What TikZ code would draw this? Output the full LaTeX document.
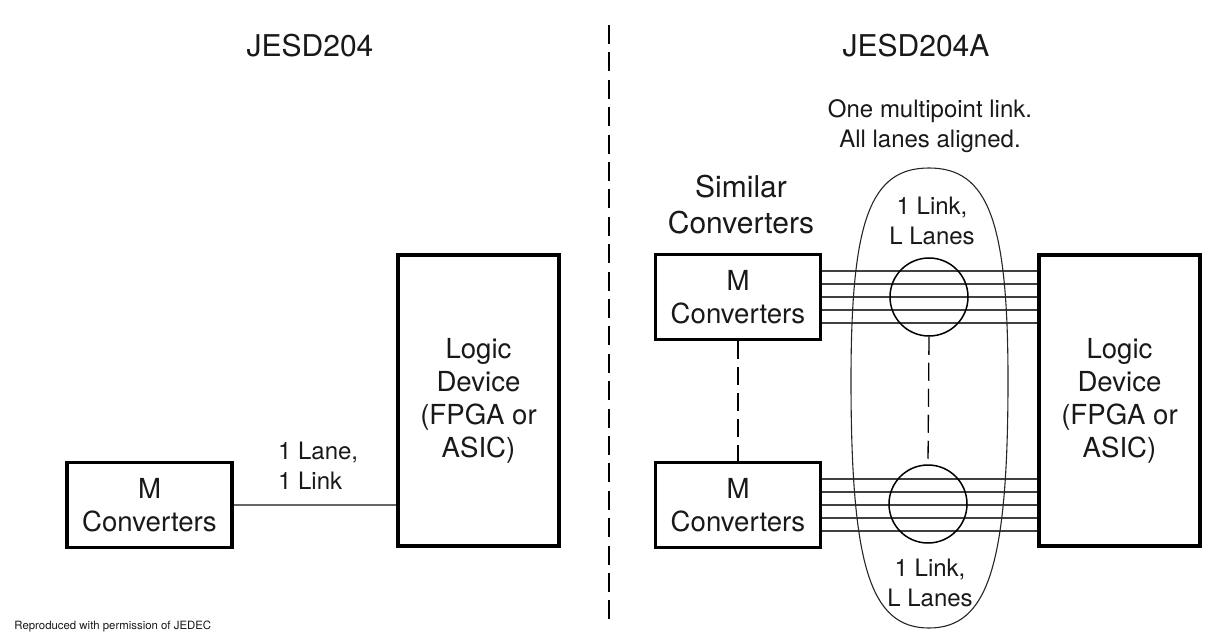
\documentclass[tikz,border=0pt]{standalone}
\usepackage{fontspec}
\setmainfont{TeX Gyre Heros}
\usetikzlibrary{positioning}

\begin{document}
\begin{tikzpicture}[%
    x=0.5pt,y=-0.5pt,%
    every node/.style={text=black!90},%
    convbox/.style={draw,line width=1.8pt,minimum width=82.5pt,minimum height=42.5pt,%
        inner sep=0pt,align=center,font=\fontsize{13.8}{16.5}\selectfont},%
    logicbox/.style={convbox,minimum width=80.5pt,minimum height=145.5pt},%
    title/.style={font=\fontsize{15}{18}\selectfont,align=center},%
    note/.style={font=\fontsize{12}{15}\selectfont,align=center},%
    lane/.style={draw,black!75,line width=0.65pt},%
    hop/.style={draw,line width=0.65pt,dash pattern=on 9pt off 4pt},%
    divider/.style={draw,line width=1pt,dash pattern=on 9.5pt off 4.2pt},%
    ring/.style={circle,draw,line width=0.75pt,minimum size=39pt,inner sep=0pt},%
]%
    \useasboundingbox (0,0) rectangle (1221,642);

    % left half: JESD204
    \node[title] (tl) at (310,46) {JESD204};
    \node[convbox] (mcl) at (149.5,505) {M\\Converters};
    \node[logicbox] (ldl) at (478.5,400.5) {Logic\\Device\\(FPGA or\\ASIC)};
    \path[lane,black!60] (mcl.east) -- (mcl.east -| ldl.west);
    \node[note,align=left,anchor=west] (lnl) at (271,466) {1 Lane,\\1 Link};

    % dashed divider
    \coordinate (dtop) at (609,25);
    \coordinate (dbot) at (609,621);
    \path[divider] (dtop) -- (dbot);

    % right half: JESD204A
    \node[title] (tr) at (916,46) {JESD204A};
    \node[note] (one) at (930,126) {One multipoint link.\\All lanes aligned.};
    \node[title] (sim) at (741,205) {Similar\\Converters};
    \node[convbox] (mct) at (738,297) {M\\Converters};
    \node[convbox] (mcb) at (738,505) {M\\Converters};
    \node[logicbox] (ldr) at (1119.5,400.5) {Logic\\Device\\(FPGA or\\ASIC)};
    \path[hop] (mct.south) -- (mcb.north);

    % lanes of the link
    \foreach \d in {13,6.5,0,-6.5,-13}{%
        \coordinate (a) at ([yshift=\d pt]mct.east);
        \path[lane] (a) -- (a -| ldr.west);
        \coordinate (b) at ([yshift=\d pt]mcb.east);
        \path[lane] (b) -- (b -| ldr.west);
    }
    \node[ring] (rt) at (929,297) {};
    \node[ring] (rb) at (928,504) {};
    \path[hop] (rt.south) -- (rb.north);

    % the multipoint link outline
    \draw[line width=0.55pt,black!85] (929,168)
        .. controls (988,168) and (1008,221) .. (1008,380)
        .. controls (1008,565) and (988,628) .. (929,628)
        .. controls (870,628) and (851,565) .. (851,380)
        .. controls (851,221) and (870,168) .. cycle;
    \node[note] (lkt) at (932,221) {1 Link,\\L Lanes};
    \node[note] (lkb) at (930,583) {1 Link,\\L Lanes};

    \node[anchor=west,font=\fontsize{5.7}{7}\selectfont,inner sep=0pt] (cpr) at (14,626)
        {Reproduced with permission of JEDEC};
\end{tikzpicture}
\end{document}
